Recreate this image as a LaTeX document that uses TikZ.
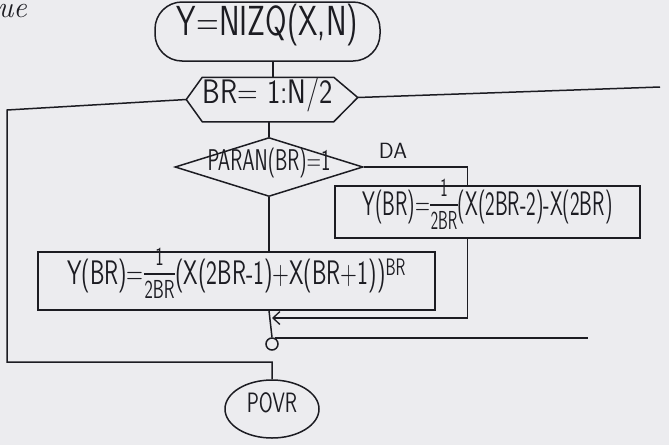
\documentclass[tikz,border=0pt]{standalone}
\usepackage{graphicx}
\usetikzlibrary{shapes.geometric,calc,arrows.meta}
\definecolor{paper}{RGB}{236,236,239}
\definecolor{ink}{RGB}{28,28,34}
\newcommand{\zt}[2]{\makebox[0pt]{\raisebox{-0.36em}[0pt][0pt]{\scalebox{#1}[1]{#2}}}}
\newcommand{\fs}[1]{\fontsize{#1pt}{#1pt}\selectfont}
\newcommand{\hfr}[2]{{\setlength{\arrayrulewidth}{1.2pt}\setlength{\tabcolsep}{1pt}\renewcommand{\arraystretch}{1}%
  \raisebox{0.1em}{\begin{tabular}{c}\fs{26}#1\\[-2pt]\hline\fs{26}\rule{0pt}{19pt}#2\end{tabular}}}}
\begin{document}
\begin{tikzpicture}[x=1pt,y=-1pt,color=ink,line width=1.5pt,
  hand/.style={font=\sffamily, inner sep=0pt},
  term/.style={hand, draw, rectangle, rounded corners=27pt},
  procbox/.style={hand, draw, rectangle},
  decision/.style={hand, draw, diamond},
  jn/.style={draw, circle, minimum size=12pt, inner sep=0pt},
  flow/.style={line width=1.5pt},
  arr/.style={flow, -{Straight Barb[length=7pt,width=13pt,line width=1.3pt]}}]
\fill[paper] (0,0) rectangle (669,445);
\useasboundingbox (0,0) rectangle (669,445);

% scribble fragment
\node[font=\itshape\fs{30}, anchor=base west, inner sep=0pt] (ue) at (-3,17) {ue};

% nodes
\node[term, minimum width=225pt, minimum height=59pt] (start) at (267.5,31.5)
  {\zt{0.74}{\fs{42}Y=NIZQ(X,N)}};
\node[hand, minimum width=130pt, minimum height=43pt] (hex) at (268,99.5)
  {\zt{0.83}{\fs{34}BR= 1:N/2}};
\coordinate (hexL) at ($(hex.west)+(-16,0)$);
\coordinate (hexR) at ($(hex.east)+(24,-2)$);
\draw (hex.north west) -- (hex.north east) -- (hexR) -- (hex.south east)
  -- (hex.south west) -- (hexL) -- cycle;

\node[decision, minimum width=188pt, minimum height=59pt] (dia) at (269,167)
  {\zt{0.66}{\fs{30}PARAN(BR)=1}};
\node[hand, font=\sffamily\fs{22}] (da) at (393,151) {DA};

\node[procbox, minimum width=305pt, minimum height=52pt] (box2) at (487.5,212)
  {\zt{0.6}{\fs{34}Y(BR)=\hfr{1}{2BR}(X(2BR-2)-X(2BR)}};
\node[procbox, minimum width=397pt, minimum height=58pt] (box3) at (236.5,281)
  {\zt{0.68}{\fs{34}Y(BR)=\hfr{1}{2BR}(X(2BR-1)+X(BR+1))\textsuperscript{BR}}};

\node[jn] (jn) at (272,344) {};
\node[hand, draw, ellipse, minimum width=94pt, minimum height=58pt] (end) at (272,409)
  {\zt{0.72}{\fs{28}POVR}};

% free ends / bends
\coordinate (loopR) at (660,87);
\coordinate (loopR2) at (588,340);
\coordinate (mrg) at (272,318);
\coordinate (lt) at (7,110);
\coordinate (lb) at (7,362);
\coordinate (b2in) at ($(box2.north west)+(133,0)$);
\coordinate (b2out) at ($(box2.south west)+(133,0)$);

% connectors
\draw[flow] (start.south -| 273,0) -- (hex.north -| 273,0);
\draw[flow] (hexL) -- (lt) -- (lb) -- (lb -| end.north) -- (end.north);
\draw[flow] (hexR) -- (loopR);
\draw[flow] (hex.south -| dia.north) -- (dia.north);
\draw[flow] (dia.east) -| (b2in);
\draw[arr] (b2out) |- (mrg);
\draw[flow] (dia.south) -- (dia.south |- box3.north);
\draw[flow] (dia.south |- box3.south) -- (jn.north);
\draw[flow] (jn.60) -- (jn.60 -| loopR2);
\end{tikzpicture}
\end{document}
